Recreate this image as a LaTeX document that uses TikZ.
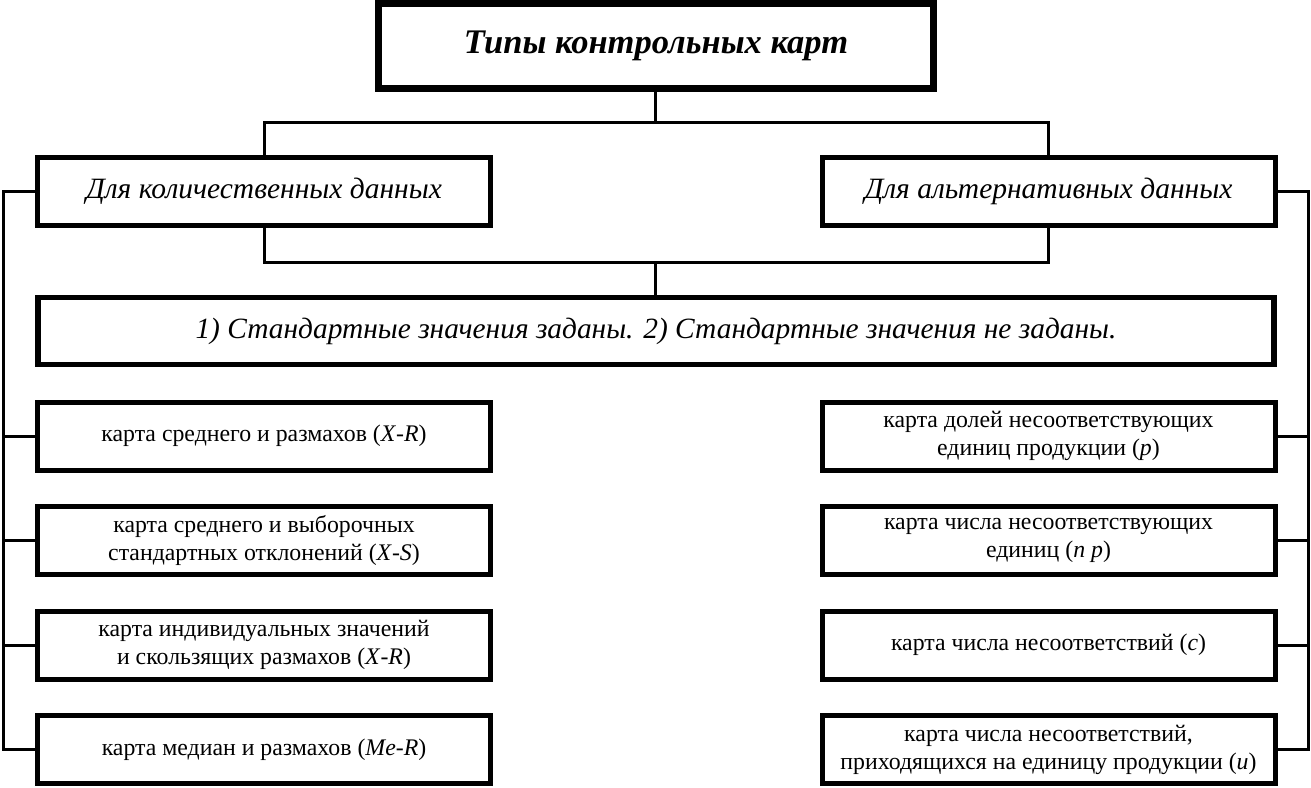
\documentclass[tikz,border=0pt]{standalone}
\usepackage{fontspec}
\setmainfont{Liberation Serif}
\begin{document}
\begin{tikzpicture}[x=1pt,y=-1pt,
  box/.style={draw, line width=5pt, rectangle, inner sep=0pt, align=center,
    font=\fontsize{23.8}{28}\selectfont},
  itembox/.style={box, minimum width=453pt, minimum height=68pt},
  headbox/.style={box, minimum width=453pt, minimum height=68pt,
    font=\fontsize{29.5}{32}\selectfont\itshape},
  conn/.style={line width=3pt}]
\useasboundingbox (0,0) rectangle (1311,787);

\node[box, line width=7pt, minimum width=555pt, minimum height=85pt,
  font=\fontsize{34.5}{38}\selectfont\bfseries\itshape] (title) at (656,46) {Типы контрольных карт};

\node[headbox] (L) at (264,191.5) {Для количественных данных};
\node[headbox] (R) at (1048.5,191.5) {Для альтернативных данных};

\node[box, line width=5.5pt, minimum width=1236pt, minimum height=67pt,
  font=\fontsize{29.4}{33}\selectfont\itshape] (mid) at (656,331)
  {1) Стандартные значения заданы. 2) Стандартные значения не заданы.};

\node[itembox] (a1) at (264,436) {карта среднего и размахов (\textit{X}-\textit{R})};
\node[itembox] (a2) at (264,540.5) {карта среднего и выборочных\\стандартных отклонений (\textit{X}-\textit{S})};
\node[itembox] (a3) at (264,645) {карта индивидуальных значений\\и скользящих размахов (\textit{X}-\textit{R})};
\node[itembox] (a4) at (264,749.5) {карта медиан и размахов (\textit{Me}-\textit{R})};

\node[itembox] (b1) at (1048.5,436) {карта долей несоответствующих\\единиц продукции (\textit{p})};
\node[itembox] (b2) at (1048.5,540.5) {карта числа несоответствующих\\единиц (\textit{n p})};
\node[itembox] (b3) at (1048.5,645) {карта числа несоответствий (\textit{c})};
\node[itembox] (b4) at (1048.5,749.5) {карта числа несоответствий,\\приходящихся на единицу продукции (\textit{u})};

\coordinate (t0) at (655,122);
\coordinate (t1) at (655,262);
\coordinate (bl) at (3,0);
\coordinate (br) at (1308,0);

\draw[conn] (title.south -| t0) -- (t0);
\draw[conn] (L.north) -- (L.north |- t0) -- (R.north |- t0) -- (R.north);
\draw[conn] (L.south) -- (L.south |- t1) -- (R.south |- t1) -- (R.south);
\draw[conn] (t1) -- (mid.north -| t1);

\draw[conn] (L.west) -- (L.west -| bl) -- (bl |- a4.west) -- (a4.west);
\foreach \n in {a1,a2,a3} \draw[conn] (\n.west) -- (\n.west -| bl);
\draw[conn] (R.east) -- (R.east -| br) -- (br |- b4.east) -- (b4.east);
\foreach \n in {b1,b2,b3} \draw[conn] (\n.east) -- (\n.east -| br);
\end{tikzpicture}
\end{document}
